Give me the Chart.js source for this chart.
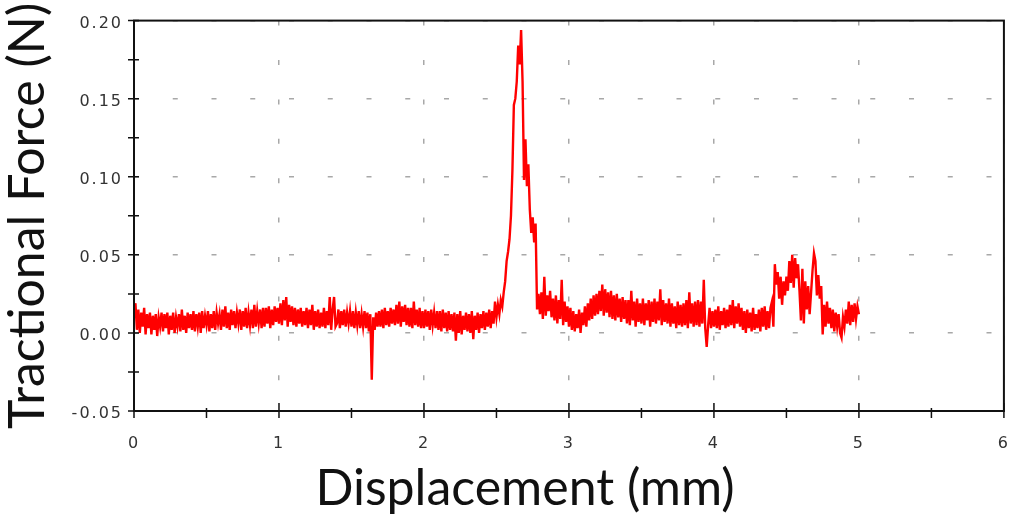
<!DOCTYPE html>
<html>
<head>
<meta charset="utf-8">
<title>Tractional force vs displacement</title>
<script src="https://cdn.jsdelivr.net/npm/chart.js@4.4.1/dist/chart.umd.min.js"></script>
<style>
    html, body { margin: 0; padding: 0; background: #fff; }
    #wrap { width: 1032px; height: 519px; }
</style>
</head>
<body>
<div id="wrap"><canvas id="forceChart" width="1032" height="519"></canvas></div>
<script>
// Scratch trace: tractional force (N), one sample every 0.01 mm from 0 to 5 mm
const xStep = 0.01;
const forceN = [
    0.012, 0.019, 0.002, 0.015, 0.000, 0.013, 0.004, 0.016, -0.001, 0.012,
    0.003, 0.013, -0.001, 0.011, 0.002, 0.012, -0.002, 0.010, 0.004, 0.013,
    0.001, 0.012, 0.003, 0.013, -0.001, 0.011, 0.002, 0.013, 0.000, 0.010,
    0.004, 0.012, 0.001, 0.015, 0.002, 0.011, 0.000, 0.013, 0.003, 0.012,
    0.002, 0.014, 0.001, 0.012, 0.004, 0.013, 0.000, 0.014, 0.003, 0.011,
    0.005, 0.014, 0.001, 0.012, 0.003, 0.014, 0.002, 0.013, 0.006, 0.012,
    0.002, 0.015, 0.004, 0.017, 0.003, 0.013, 0.002, 0.015, 0.005, 0.014,
    0.003, 0.013, 0.006, 0.015, 0.002, 0.014, 0.004, 0.016, 0.003, 0.013,
    0.005, 0.015, 0.003, 0.018, 0.004, 0.014, 0.006, 0.015, 0.003, 0.016,
    0.004, 0.016, 0.006, 0.017, 0.003, 0.015, 0.005, 0.017, 0.007, 0.016,
    0.006, 0.019, 0.005, 0.021, 0.008, 0.023, 0.004, 0.018, 0.007, 0.017,
    0.005, 0.016, 0.004, 0.015, 0.006, 0.016, 0.004, 0.014, 0.005, 0.016,
    0.003, 0.015, 0.005, 0.018, 0.002, 0.014, 0.004, 0.015, 0.003, 0.013,
    0.004, 0.016, 0.003, 0.014, 0.005, 0.023, 0.002, 0.015, 0.023, 0.004,
    0.006, 0.015, 0.003, 0.014, 0.005, 0.015, 0.004, 0.013, 0.006, 0.014,
    0.004, 0.014, 0.003, 0.013, 0.005, 0.014, 0.003, 0.012, 0.004, 0.014,
    0.003, 0.013, 0.001, 0.012, -0.030, 0.010, 0.002, 0.013, 0.004, 0.014,
    0.004, 0.015, 0.003, 0.016, 0.005, 0.014, 0.004, 0.016, 0.006, 0.015,
    0.005, 0.018, 0.006, 0.020, 0.004, 0.017, 0.007, 0.018, 0.005, 0.016,
    0.004, 0.016, 0.003, 0.020, 0.005, 0.015, 0.004, 0.016, 0.003, 0.014,
    0.003, 0.015, 0.004, 0.014, 0.002, 0.015, 0.005, 0.013, 0.003, 0.014,
    0.002, 0.014, 0.001, 0.015, 0.003, 0.013, 0.001, 0.014, 0.002, 0.012,
    0.001, 0.013, -0.005, 0.012, 0.000, 0.014, -0.001, 0.011, 0.002, 0.013,
    0.001, 0.012, 0.000, 0.014, -0.004, 0.011, 0.002, 0.013, 0.000, 0.012,
    0.003, 0.014, 0.002, 0.013, 0.004, 0.015, 0.003, 0.014, 0.006, 0.020,
    0.010, 0.018, 0.012, 0.021, 0.017, 0.026, 0.033, 0.046, 0.052, 0.060,
    0.075, 0.104, 0.146, 0.150, 0.161, 0.184, 0.172, 0.194, 0.161, 0.098,
    0.124, 0.094, 0.108, 0.079, 0.064, 0.074, 0.058, 0.070, 0.015, 0.025,
    0.012, 0.026, 0.009, 0.036, 0.011, 0.024, 0.014, 0.027, 0.010, 0.022,
    0.008, 0.024, 0.006, 0.021, 0.009, 0.034, 0.005, 0.020, 0.007, 0.017,
    0.004, 0.016, 0.002, 0.014, 0.001, 0.012, 0.003, 0.015, 0.000, 0.013,
    0.005, 0.017, 0.004, 0.019, 0.008, 0.022, 0.009, 0.024, 0.011, 0.025,
    0.012, 0.027, 0.014, 0.031, 0.011, 0.028, 0.013, 0.026, 0.010, 0.027,
    0.009, 0.024, 0.008, 0.025, 0.010, 0.022, 0.007, 0.023, 0.009, 0.021,
    0.006, 0.021, 0.005, 0.027, 0.008, 0.020, 0.004, 0.022, 0.007, 0.019,
    0.006, 0.022, 0.005, 0.019, 0.008, 0.021, 0.004, 0.020, 0.007, 0.022,
    0.006, 0.020, 0.008, 0.028, 0.005, 0.021, 0.007, 0.019, 0.006, 0.022,
    0.004, 0.019, 0.006, 0.017, 0.003, 0.020, 0.005, 0.018, 0.004, 0.019,
    0.005, 0.021, 0.003, 0.026, 0.006, 0.019, 0.004, 0.020, 0.005, 0.021,
    0.004, 0.020, 0.006, 0.034, 0.003, -0.009, 0.005, 0.016, 0.003, 0.014,
    0.004, 0.015, 0.003, 0.017, 0.002, 0.014, 0.005, 0.016, 0.003, 0.015,
    0.004, 0.018, 0.005, 0.021, 0.003, 0.017, 0.006, 0.019, 0.004, 0.016,
    0.002, 0.014, 0.000, 0.015, 0.003, 0.013, 0.001, 0.016, 0.002, 0.012,
    0.003, 0.015, 0.001, 0.016, 0.004, 0.017, 0.002, 0.014, 0.003, 0.016,
    0.020, 0.004, 0.044, 0.031, 0.039, 0.022, 0.036, 0.018, 0.033, 0.024,
    0.036, 0.027, 0.046, 0.032, 0.050, 0.029, 0.048, 0.035, 0.044, 0.027,
    0.008, 0.041, 0.006, 0.033, 0.015, 0.030, 0.012, 0.026, 0.040, 0.051,
    0.046, 0.024, 0.037, 0.022, 0.030, -0.001, 0.018, 0.004, 0.020, 0.006,
    0.016, 0.003, 0.015, 0.001, 0.013, 0.004, 0.012, 0.000, -0.003, 0.010,
    0.004, 0.015, 0.006, 0.020, 0.005, 0.018, 0.007, 0.019, 0.009, 0.017,
    0.012
];

// Axis ticks: labelled majors plus an unlabelled minor in between
const xTicks = [0, 1, 2, 3, 4, 5, 6];
const yTicks = [-0.05, 0.00, 0.05, 0.10, 0.15, 0.20];
const xMinorStep = 0.5;
const yMinorStep = 0.025;
const xTitle = 'Displacement (mm)';
const yTitle = 'Tractional Force (N)';

const points = forceN.map((v, i) => ({ x: +(i * xStep).toFixed(2), y: v }));

function onMajor(value, list) {
    return list.some(t => Math.abs(t - value) < 1e-6);
}

// Tick marks crossing the axes and the closed box round the plot
const axisFrame = {
    id: 'axisFrame',
    afterDatasetsDraw(chart) {
        // tick labels are drawn after the data (ticks.z = 1), widen them a little
        chart.ctx.letterSpacing = '2px';
    },
    afterDraw(chart) {
        const { ctx, chartArea: a, scales } = chart;
        ctx.letterSpacing = '0px';
        ctx.save();
        ctx.strokeStyle = '#111';
        ctx.lineWidth = 1.5;
        ctx.beginPath();
        scales.x.ticks.forEach(t => {
            const px = scales.x.getPixelForValue(t.value);
            const up = onMajor(t.value, xTicks) ? 8 : 3;
            ctx.moveTo(px, a.bottom - up);
            ctx.lineTo(px, a.bottom + 7);
        });
        scales.y.ticks.forEach(t => {
            const py = scales.y.getPixelForValue(t.value);
            ctx.moveTo(a.left - 6, py);
            ctx.lineTo(a.left + 5, py);
        });
        ctx.stroke();
        ctx.lineWidth = 2;
        ctx.strokeRect(a.left, a.top, a.right - a.left, a.bottom - a.top);
        ctx.restore();
    }
};

const ctx = document.getElementById('forceChart').getContext('2d');
new Chart(ctx, {
    type: 'line',
    data: {
        datasets: [{
            label: yTitle,
            data: points,
            borderColor: '#ff0000',
            borderWidth: 2.4,
            pointRadius: 0,
            tension: 0,
            fill: false
        }]
    },
    options: {
        responsive: false,
        animation: false,
        devicePixelRatio: 1,
        layout: { padding: { left: 30, right: 12, top: 17, bottom: 0 } },
        plugins: {
            legend: { display: false },
            tooltip: { enabled: false },
            title: {
                display: true,
                position: 'bottom',
                text: xTitle,
                color: '#111',
                font: { family: 'Lato', size: 50, weight: 'normal', lineHeight: 1.2 },
                padding: { top: 0, bottom: 0 }
            }
        },
        scales: {
            x: {
                type: 'linear',
                min: xTicks[0],
                max: xTicks[xTicks.length - 1],
                afterFit(scale) { scale.height = 48; },
                // dash pattern of the grid lines lives under border in v4
                border: { display: false, dash: [5, 34.4] },
                grid: {
                    drawTicks: false,
                    color: c => onMajor(c.tick.value, xTicks) ? '#a8a8a8' : 'rgba(0,0,0,0)',
                    lineWidth: 1.5
                },
                ticks: {
                    stepSize: xMinorStep,
                    autoSkip: false,
                    maxTicksLimit: 20,
                    maxRotation: 0,
                    padding: 23,
                    z: 1,
                    color: '#333',
                    font: { family: 'DejaVu Sans', size: 16 },
                    callback: v => onMajor(v, xTicks) ? String(v) : ''
                }
            },
            y: {
                min: yTicks[0],
                max: yTicks[yTicks.length - 1],
                afterFit(scale) { scale.width = 104; },
                border: { display: false, dash: [5, 33.75] },
                grid: {
                    drawTicks: false,
                    color: c => onMajor(c.tick.value, yTicks) ? '#a8a8a8' : 'rgba(0,0,0,0)',
                    lineWidth: 1.5
                },
                title: {
                    display: true,
                    text: yTitle,
                    color: '#111',
                    font: { family: 'Lato', size: 50, weight: 'normal', lineHeight: 1.2 },
                    padding: { top: -32, bottom: 0 }
                },
                ticks: {
                    stepSize: yMinorStep,
                    autoSkip: false,
                    maxTicksLimit: 20,
                    padding: 11,
                    labelOffset: 3,
                    z: 1,
                    color: '#333',
                    font: { family: 'DejaVu Sans', size: 16 },
                    callback: v => onMajor(v, yTicks) ? v.toFixed(2) : ''
                }
            }
        }
    },
    plugins: [axisFrame]
});
</script>
</body>
</html>
